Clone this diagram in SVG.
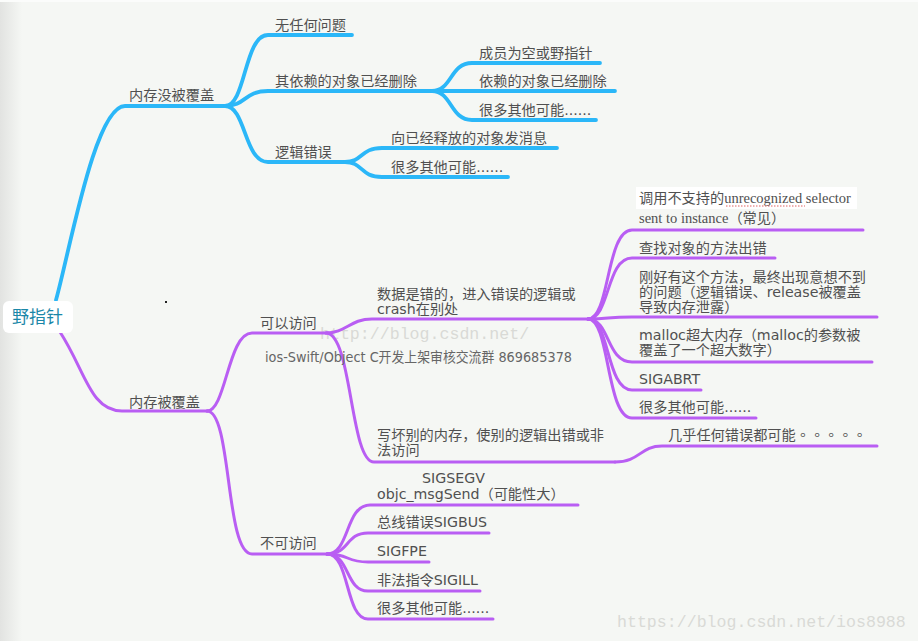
<svg xmlns="http://www.w3.org/2000/svg" width="918" height="641" viewBox="0 0 918 641">
<defs>
<linearGradient id="lg" x1="0" y1="0" x2="1" y2="0">
<stop offset="0" stop-color="#e2e3e1"/>
<stop offset="1" stop-color="#f5f7f4"/>
</linearGradient>
<style>
.t{font-family:"DejaVu Sans","Noto Sans CJK SC",sans-serif;font-size:14.2px;fill:#505050}
.c{font-family:"Noto Sans CJK TC","Noto Sans CJK SC",sans-serif}
.s{font-family:"Liberation Serif","Noto Sans CJK SC",serif}
.b{fill:none;stroke:#2bb7f8;stroke-width:3.8;stroke-linecap:round}
.p{fill:none;stroke:#b95ef3;stroke-width:3;stroke-linecap:round}
.wm{font-family:"Liberation Mono",monospace;font-size:16.6px;fill:#d9dad6}
</style>
</defs>
<rect width="918" height="641" fill="#f5f7f4"/>
<rect x="0" y="0" width="22" height="641" fill="url(#lg)"/>
<rect x="0" y="0" width="918" height="2" fill="#fbfcfb"/>
<rect x="165" y="301" width="2" height="2" fill="#222"/>
<text class="wm" x="320" y="339">http://blog.csdn.net/</text>
<text class="wm" x="617" y="627">https://blog.csdn.net/ios8988</text>

<g id="connectors">
<path class="b" d="M56 300 C70 250 95 106 125 106 L226 106"/>
<path class="b" d="M225 106 C246 106 244 35 268 35 L352 35"/>
<path class="b" d="M225 106 C246 106 244 91 268 91 L432 91"/>
<path class="b" d="M225 106 C246 106 244 162 268 162 L345 162"/>
<path class="b" d="M432 91 C452 91 450 63 472 63 L600 63"/>
<path class="b" d="M432 91 L615 91"/>
<path class="b" d="M432 91 C452 91 450 120 472 120 L596 120"/>
<path class="b" d="M345 162 C363 162 360 148 382 148 L557 148"/>
<path class="b" d="M345 162 C363 162 360 177 382 177 L508 177"/>

<path class="p" d="M60 332 C85 370 90 411 122 411 L208 411"/>
<path class="p" d="M207 411 C226 411 228 333 252 333 L328 333"/>
<path class="p" d="M207 411 C232 411 225 554 252 554 L327 554"/>
<path class="p" d="M326 333 C346 333 350 319 372 319 L588 319"/>
<path class="p" d="M326 333 C352 333 350 462 374 462 L615 462"/>
<path class="p" d="M615 462 C640 462 640 446 662 446 L877 446"/>
<path class="p" d="M588 319 C610 319 606 230 632 230 L863 230"/>
<path class="p" d="M588 319 C610 319 606 258 632 258 L775 258"/>
<path class="p" d="M588 319 C610 319 606 317 632 317 L877 317"/>
<path class="p" d="M588 319 C610 319 606 362 632 362 L872 362"/>
<path class="p" d="M588 319 C610 319 606 390 632 390 L701 390"/>
<path class="p" d="M588 319 C610 319 606 418 632 418 L756 418"/>
<path class="p" d="M327 554 C350 554 345 505 370 505 L578 505"/>
<path class="p" d="M327 554 C350 554 345 533 368 533 L489 533"/>
<path class="p" d="M327 554 C350 554 345 562 368 562 L429 562"/>
<path class="p" d="M327 554 C350 554 345 591 368 591 L480 591"/>
<path class="p" d="M327 554 C350 554 345 619 368 619 L493 619"/>
</g>

<g id="root">
<rect x="3" y="301" width="70" height="32" rx="6" fill="#ffffff"/>
<text x="12" y="323" style="font-family:'Noto Sans CJK SC',sans-serif;font-size:17px;fill:#1a87a8">野指针</text>
</g>

<g id="n-not-covered"><text class="t" x="129" y="100">内存没被覆盖</text></g>
<g id="n-no-problem"><text class="t" x="275" y="30">无任何问题</text></g>
<g id="n-dep-deleted"><text class="t" x="275" y="86">其依赖的对象已经删除</text></g>
<g id="n-logic-error"><text class="t" x="275" y="157">逻辑错误</text></g>
<g id="n-member-null"><text class="t" x="479" y="58">成员为空或野指针</text></g>
<g id="n-dep-deleted2"><text class="t" x="479" y="86">依赖的对象已经删除</text></g>
<g id="n-others1"><text class="t" x="479" y="115">很多其他可能......</text></g>
<g id="n-msg-released"><text class="t" x="391" y="143">向已经释放的对象发消息</text></g>
<g id="n-others2"><text class="t" x="391" y="172">很多其他可能......</text></g>

<g id="n-covered"><text class="t" x="129" y="407">内存被覆盖</text></g>
<g id="n-accessible"><text class="t" x="260" y="328">可以访问</text></g>
<g id="n-group-note"><text class="t" x="265" y="362" textLength="307" lengthAdjust="spacingAndGlyphs" style="fill:#666">ios-Swift/Object C开发上架审核交流群 869685378</text></g>
<g id="n-not-accessible"><text class="t" x="260" y="548">不可访问</text></g>
<g id="n-data-wrong"><text class="t" x="377" y="299">数据是错的，进入错误的逻辑或</text><text class="t" x="377" y="314">crash在别处</text></g>
<g id="n-write-bad"><text class="t" x="377" y="440">写坏别的内存，使别的逻辑出错或非</text><text class="t" x="377" y="455">法访问</text></g>
<g id="n-anything"><text class="t" x="668" y="440">几乎任何错误都可能<tspan class="c">。。。。。</tspan></text></g>

<g id="n-unrecognized">
<rect x="636" y="187" width="221" height="22" fill="#ffffff"/>
<text class="t" x="639" y="203">调用不支持的<tspan class="s" style="font-size:14.5px">unrecognized selector</tspan></text>
<line x1="726" y1="206" x2="805" y2="206" stroke="#e06060" stroke-width="1" stroke-dasharray="1.5,1.5"/>
<text class="t" x="639" y="223"><tspan class="s" style="font-size:14.5px">sent to instance</tspan>（常见）</text>
</g>
<g id="n-find-method"><text class="t" x="639" y="253">查找对象的方法出错</text></g>
<g id="n-method-exists"><text class="t" x="639" y="282">刚好有这个方法，最终出现意想不到</text><text class="t" x="639" y="297">的问题（逻辑错误、release被覆盖</text><text class="t" x="639" y="312">导致内存泄露）</text></g>
<g id="n-malloc"><text class="t" x="639" y="340">malloc超大内存（malloc的参数被</text><text class="t" x="639" y="355">覆盖了一个超大数字）</text></g>
<g id="n-sigabrt"><text class="t" x="639" y="384">SIGABRT</text></g>
<g id="n-others3"><text class="t" x="639" y="412">很多其他可能......</text></g>

<g id="n-sigsegv"><text class="t" x="422" y="483">SIGSEGV</text><text class="t" x="377" y="499">objc_msgSend（可能性大）</text></g>
<g id="n-sigbus"><text class="t" x="377" y="527">总线错误SIGBUS</text></g>
<g id="n-sigfpe"><text class="t" x="377" y="556">SIGFPE</text></g>
<g id="n-sigill"><text class="t" x="377" y="585">非法指令SIGILL</text></g>
<g id="n-others4"><text class="t" x="377" y="613">很多其他可能......</text></g>
</svg>
